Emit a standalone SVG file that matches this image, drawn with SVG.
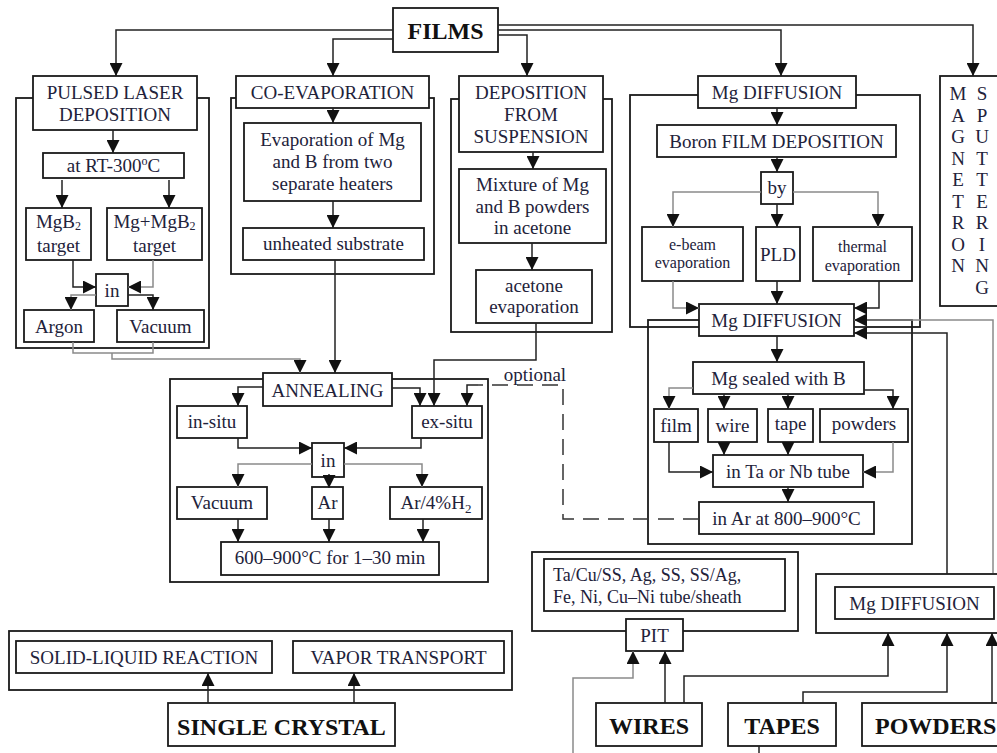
<svg xmlns="http://www.w3.org/2000/svg" width="997" height="753" viewBox="0 0 997 753">
<style>
.box{fill:#fff;stroke:#1a1a1a;stroke-width:1.8}
.cont{fill:none;stroke:#1a1a1a;stroke-width:1.8}
.c{fill:none;stroke:#222;stroke-width:1.5;marker-end:url(#a)}
.n{fill:none;stroke:#222;stroke-width:1.5}
.g{stroke:#8a8a8a}
.d{fill:none;stroke:#333;stroke-width:1.5;stroke-dasharray:16,9}
text{font-family:"Liberation Serif","Times New Roman",serif;font-size:19px;fill:#22223a;text-anchor:middle}
.s{font-size:16px}
.b{font-weight:bold;font-size:24px;fill:#111}
.l{text-anchor:start;font-size:18px}
</style>
<defs>
<marker id="a" markerWidth="13" markerHeight="13" refX="13" refY="6.5" orient="auto" markerUnits="userSpaceOnUse"><path d="M0,0L13,6.5L0,13z" fill="#111"/></marker>
</defs>

<g id="containers">
<rect class="cont" x="16" y="98" width="193" height="250"/>
<rect class="cont" x="231" y="98" width="203" height="176"/>
<rect class="cont" x="451" y="99" width="161" height="233"/>
<rect class="cont" x="630" y="95" width="290" height="232"/>
<rect class="cont" x="648" y="320" width="264" height="224"/>
<rect class="cont" x="170" y="379" width="318" height="203"/>
<rect class="cont" x="532" y="552" width="266" height="79"/>
<rect class="cont" x="816" y="574" width="200" height="59"/>
<rect class="cont" x="9" y="631" width="503" height="59"/>
</g>

<g id="n-films"><rect class="box" x="393" y="8" width="105" height="44"/><text class="b" x="445.5" y="39">FILMS</text></g>

<g id="n-pld"><rect class="box" x="33" y="76" width="164" height="54"/><text x="115" y="99">PULSED LASER</text><text x="115" y="121">DEPOSITION</text></g>
<g id="n-rt"><rect class="box" x="43" y="153" width="141" height="25"/><text x="113.5" y="172">at RT-300<tspan font-size="12" dy="-7">o</tspan><tspan dy="7">C</tspan></text></g>
<g id="n-mgb2"><rect class="box" x="26" y="208" width="65" height="52"/><text x="58.5" y="228">MgB<tspan font-size="12" dy="2">2</tspan></text><text x="58.5" y="252">target</text></g>
<g id="n-mgmgb2"><rect class="box" x="107" y="208" width="95" height="52"/><text x="154.5" y="228">Mg+MgB<tspan font-size="12" dy="2">2</tspan></text><text x="154.5" y="252">target</text></g>
<g id="n-in1"><rect class="box" x="96" y="274" width="32" height="32"/><text x="112" y="297">in</text></g>
<g id="n-argon"><rect class="box" x="24" y="310" width="70" height="32"/><text x="59" y="333">Argon</text></g>
<g id="n-vacuum1"><rect class="box" x="117" y="310" width="87" height="32"/><text x="160.5" y="333">Vacuum</text></g>

<g id="n-coevap"><rect class="box" x="236" y="76" width="193" height="32"/><text x="332.5" y="99">CO-EVAPORATION</text></g>
<g id="n-evap"><rect class="box" x="244" y="123" width="177" height="78"/><text x="332.5" y="146">Evaporation of Mg</text><text x="332.5" y="168">and B from two</text><text x="332.5" y="190">separate heaters</text></g>
<g id="n-unheated"><rect class="box" x="243" y="228" width="181" height="32"/><text x="333.5" y="250">unheated substrate</text></g>

<g id="n-dep"><rect class="box" x="459" y="76" width="144" height="76"/><text x="531" y="99">DEPOSITION</text><text x="531" y="121">FROM</text><text x="531" y="143">SUSPENSION</text></g>
<g id="n-mixture"><rect class="box" x="459" y="169" width="147" height="74"/><text x="532.5" y="191">Mixture of Mg</text><text x="532.5" y="213">and B powders</text><text x="532.5" y="234">in acetone</text></g>
<g id="n-acetone"><rect class="box" x="476" y="270" width="116" height="53"/><text x="534" y="292">acetone</text><text x="534" y="313">evaporation</text></g>

<g id="n-mgdiff1"><rect class="box" x="698" y="76" width="158" height="32"/><text x="777" y="99">Mg DIFFUSION</text></g>
<g id="n-boron"><rect class="box" x="657" y="125" width="239" height="32"/><text x="776.5" y="148">Boron FILM DEPOSITION</text></g>
<g id="n-by"><rect class="box" x="761" y="172" width="32" height="32"/><text x="777" y="194">by</text></g>
<g id="n-ebeam"><rect class="box" x="642" y="227" width="101" height="54"/><text class="s" x="692.5" y="250">e-beam</text><text class="s" x="692.5" y="268">evaporation</text></g>
<g id="n-pld2"><rect class="box" x="756" y="227" width="44" height="54"/><text x="778" y="261" font-size="17">PLD</text></g>
<g id="n-thermal"><rect class="box" x="813" y="227" width="99" height="54"/><text class="s" x="862.5" y="252">thermal</text><text class="s" x="862.5" y="271">evaporation</text></g>

<g id="n-magnetron"><rect class="box" x="940" y="76" width="70" height="230"/>
<text x="958"><tspan x="958" y="100">M</tspan><tspan x="958" y="121.5">A</tspan><tspan x="958" y="143">G</tspan><tspan x="958" y="164.5">N</tspan><tspan x="958" y="186">E</tspan><tspan x="958" y="207.5">T</tspan><tspan x="958" y="229">R</tspan><tspan x="958" y="250.5">O</tspan><tspan x="958" y="272">N</tspan></text>
<text x="982"><tspan x="982" y="100">S</tspan><tspan x="982" y="121.5">P</tspan><tspan x="982" y="143">U</tspan><tspan x="982" y="164.5">T</tspan><tspan x="982" y="186">T</tspan><tspan x="982" y="207.5">E</tspan><tspan x="982" y="229">R</tspan><tspan x="982" y="250.5">I</tspan><tspan x="982" y="272">N</tspan><tspan x="982" y="293.5">G</tspan></text></g>

<g id="n-mgdiff2"><rect class="box" x="699" y="304" width="155" height="32"/><text x="776.5" y="327">Mg DIFFUSION</text></g>
<g id="n-sealed"><rect class="box" x="693" y="362" width="171" height="32"/><text x="778.5" y="385">Mg sealed with B</text></g>
<g id="n-film"><rect class="box" x="654" y="409" width="44" height="33"/><text x="676" y="432">film</text></g>
<g id="n-wire"><rect class="box" x="708" y="409" width="49" height="33"/><text x="732.5" y="432">wire</text></g>
<g id="n-tape"><rect class="box" x="768" y="409" width="45" height="33"/><text x="790.5" y="430">tape</text></g>
<g id="n-powders"><rect class="box" x="820" y="409" width="88" height="33"/><text x="864" y="430">powders</text></g>
<g id="n-tube"><rect class="box" x="713" y="455" width="150" height="32"/><text x="788" y="478">in Ta or Nb tube</text></g>
<g id="n-inar"><rect class="box" x="699" y="502" width="175" height="32"/><text x="786.5" y="525">in Ar at 800–900°C</text></g>

<g id="n-annealing"><rect class="box" x="263" y="373" width="129" height="33"/><text x="327.5" y="397">ANNEALING</text></g>
<g id="n-insitu"><rect class="box" x="177" y="406" width="70" height="32"/><text x="212" y="428">in-situ</text></g>
<g id="n-exsitu"><rect class="box" x="412" y="406" width="70" height="32"/><text x="447" y="428">ex-situ</text></g>
<g id="n-in2"><rect class="box" x="312" y="443" width="32" height="34"/><text x="328" y="467">in</text></g>
<g id="n-vacuum2"><rect class="box" x="177" y="487" width="90" height="32"/><text x="222" y="509">Vacuum</text></g>
<g id="n-ar"><rect class="box" x="312" y="487" width="31" height="32"/><text x="327.5" y="509">Ar</text></g>
<g id="n-arh2"><rect class="box" x="390" y="487" width="92" height="32"/><text x="436" y="509">Ar/4%H<tspan font-size="13" dy="4">2</tspan></text></g>
<g id="n-temp"><rect class="box" x="221" y="542" width="218" height="33"/><text x="330" y="564">600–900°C for 1–30 min</text></g>
<g id="n-optional"><text x="535" y="381" font-size="13">optional</text></g>

<g id="n-sheath"><rect class="box" x="544" y="559" width="241" height="52"/><text class="l" x="553" y="581">Ta/Cu/SS, Ag, SS, SS/Ag,</text><text class="l" x="553" y="603">Fe, Ni, Cu–Ni tube/sheath</text></g>
<g id="n-pit"><rect class="box" x="626" y="619" width="57" height="32"/><text x="654.5" y="642">PIT</text></g>
<g id="n-mgdiff3"><rect class="box" x="835" y="587" width="159" height="32"/><text x="914.5" y="610">Mg DIFFUSION</text></g>
<g id="n-wires"><rect class="box" x="596" y="703" width="106" height="43"/><text class="b" x="649" y="734">WIRES</text></g>
<g id="n-tapes"><rect class="box" x="728" y="703" width="108" height="43"/><text class="b" x="782" y="734">TAPES</text></g>
<g id="n-powders2"><rect class="box" x="862" y="703" width="150" height="43"/><text class="b" x="875" y="734" style="text-anchor:start">POWDERS</text></g>

<g id="n-solid"><rect class="box" x="16" y="641" width="256" height="32"/><text x="144" y="664">SOLID-LIQUID REACTION</text></g>
<g id="n-vapor"><rect class="box" x="293" y="641" width="211" height="32"/><text x="398.5" y="664">VAPOR TRANSPORT</text></g>
<g id="n-single"><rect class="box" x="168" y="703" width="227" height="43"/><text class="b" x="281.5" y="735">SINGLE CRYSTAL</text></g>

<g id="connectors">
<path class="c" d="M393,30H116V76"/>
<path class="c" d="M393,39H333V76"/>
<path class="c" d="M498,35H527V76"/>
<path class="c" d="M498,30H781V76"/>
<path class="c" d="M498,25H973V76"/>
<path class="c" d="M113,130V153"/>
<path class="c" d="M62,180V208"/>
<path class="c" d="M169,180V208"/>
<path class="c" d="M73,260V287H96"/>
<path class="c g" d="M153,260V287H128"/>
<path class="c g" d="M96,295H71V310"/>
<path class="c" d="M128,295H153V310"/>
<path class="n g" d="M73,342V353H153V342"/>
<path class="c g" d="M112,353V359H300V373"/>
<path class="c" d="M333,108V123"/>
<path class="c" d="M333,201V228"/>
<path class="c" d="M335,260V373"/>
<path class="c" d="M533,152V169"/>
<path class="c" d="M532,243V270"/>
<path class="c" d="M536,323V360H434V406"/>
<path class="c" d="M263,387H238V406"/>
<path class="c" d="M392,388H420V406"/>
<path class="d" d="M699,519H563V385H478"/>
<path class="c" d="M478,385H467V406"/>
<path class="c" d="M238,438V448H312"/>
<path class="c" d="M421,438V448H344"/>
<path class="c g" d="M312,464H238V487"/>
<path class="c g" d="M344,464H422V487"/>
<path class="c" d="M329,474V488"/>
<path class="c" d="M238,519V542"/>
<path class="c" d="M329,519V542"/>
<path class="c" d="M423,519V542"/>
<path class="c" d="M777,108V125"/>
<path class="c" d="M777,157V172"/>
<path class="c g" d="M761,192H673V227"/>
<path class="c g" d="M793,192H878V227"/>
<path class="c" d="M777,204V227"/>
<path class="c g" d="M673,281V308H699"/>
<path class="c" d="M777,281V304"/>
<path class="c" d="M879,281V308H854"/>
<path class="c g" d="M993,573V320H854"/>
<path class="c" d="M947,574V333H854"/>
<path class="c" d="M777,336V362"/>
<path class="c g" d="M693,388H669V409"/>
<path class="c" d="M724,394V409"/>
<path class="c" d="M788,394V409"/>
<path class="c" d="M864,390H893V409"/>
<path class="c" d="M669,442V472H713"/>
<path class="c" d="M724,442V455"/>
<path class="c" d="M788,442V455"/>
<path class="c g" d="M893,442V472H863"/>
<path class="c" d="M788,487V502"/>
<path class="c g" d="M573,753V678H633V651"/>
<path class="c" d="M665,703V651"/>
<path class="c" d="M684,703V676H888V633"/>
<path class="c" d="M803,703V692H947V633"/>
<path class="c" d="M992,703V633"/>
<path class="n" d="M759,746V753"/>
<path class="c" d="M208,703V673"/>
<path class="c" d="M354,703V673"/>
</g>
</svg>
